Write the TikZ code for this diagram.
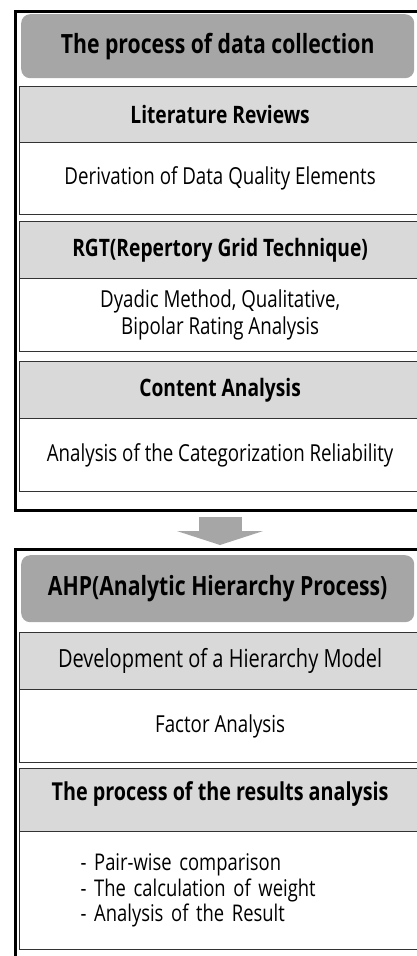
\documentclass[tikz,border=0pt]{standalone}
\usepackage{fontspec}
\setmainfont[FakeStretch=0.8]{Open Sans}
\usepackage{tikz}
\usetikzlibrary{arrows.meta}
\tikzstyle{frame}=[draw=black, line width=3pt, anchor=north west, inner sep=0pt]
\tikzstyle{title}=[rounded corners=9pt, fill=black!35, anchor=north west, font=\fontsize{26.5}{30}\selectfont\bfseries]
\tikzstyle{head}=[draw=black!80, line width=1.2pt, fill=black!15, anchor=north west, font=\fontsize{24}{28}\selectfont\bfseries]
\tikzstyle{body}=[draw=black!80, line width=1.2pt, fill=white, anchor=north west, align=center, font=\fontsize{23.4}{27}\selectfont]
\tikzstyle{arrow}=[draw=black!35, line width=43pt, -{Triangle[length=14pt, width=86pt]}]

\begin{document}
\begin{tikzpicture}[x=1pt, y=-1pt]
		   \useasboundingbox (0,0) rectangle (417,956);
		   \clip (0,0) rectangle (417,956);
		   % data collection
		   \begin{scope}
			   \node (collect) at (14,10)[frame, minimum width=410pt, minimum height=499pt] {};
			   \node (collecttitle) at (21,14)[title, minimum width=393pt, minimum height=64pt] {The process of data collection};
			   \node (lithead) at (19,86)[head, minimum width=401pt, minimum height=56pt] {Literature Reviews};
			   \node (litbody) at (19,142)[body, minimum width=401pt, minimum height=72pt] {Derivation of Data Quality Elements};
			   \node (rgthead) at (19,221)[head, minimum width=401pt, minimum height=57pt] {RGT(Repertory Grid Technique)};
			   \node (rgtbody) at (19,278)[body, minimum width=401pt, minimum height=73pt] {Dyadic Method, Qualitative,\\Bipolar Rating Analysis};
			   \node (conhead) at (19,361)[head, minimum width=401pt, minimum height=57pt] {Content Analysis};
			   \node (conbody) at (19,418)[body, minimum width=401pt, minimum height=73pt] {Analysis of the Categorization Reliability};
		   \end{scope}
		   % AHP
		   \begin{scope}
			   \node (ahp) at (14,548)[frame, minimum width=410pt, minimum height=420pt] {};
			   \node (ahptitle) at (21,555)[title, minimum width=393pt, minimum height=67pt] {AHP(Analytic Hierarchy Process)};
			   \node (devhead) at (19,632)[head, minimum width=401pt, minimum height=57pt, font=\fontsize{25}{28}\selectfont] {Development of a Hierarchy Model};
			   \node (facbody) at (19,689)[body, minimum width=401pt, minimum height=73pt] {Factor Analysis};
			   \node (reshead) at (19,768)[head, minimum width=401pt, minimum height=63pt, text depth=18pt, font=\fontsize{24.7}{28}\selectfont\bfseries] {The process of the results analysis};
			   \node (resbody) at (19,831)[body, minimum width=401pt, minimum height=118pt, align=left, inner xsep=61pt, text width=279pt, font=\fontsize{23}{25.5}\selectfont] {- Pair-wise comparison\\- The calculation of weight\\- Analysis of the Result};
		   \end{scope}
		   \begin{scope}
			   \coordinate (arrowtop) at (220,517);
			   \coordinate (arrowtip) at (220,545);
			   \path [arrow] (arrowtop) -- (arrowtip);
		   \end{scope}
	   \end{tikzpicture}
\end{document}
